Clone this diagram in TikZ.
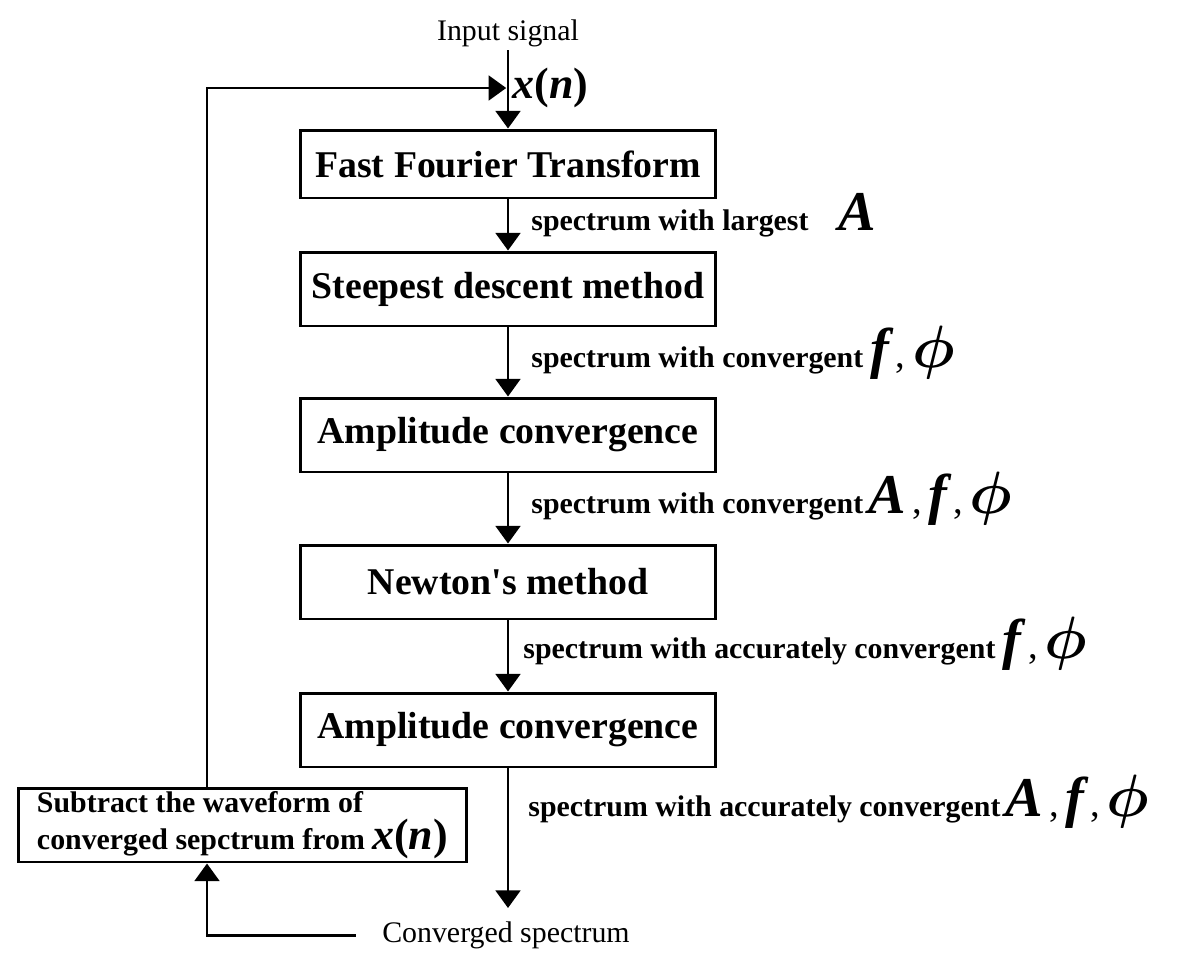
\documentclass[tikz,border=0pt]{standalone}
\usepackage{fix-cm}
\usepackage{fontspec}
\setmainfont{Liberation Serif}
\usepackage{amsmath}
\usepackage{bm}
\usetikzlibrary{arrows.meta, positioning, calc}
\tikzstyle{arrow} = [line width=1.7pt, -{Triangle[length=10pt, width=14pt]}]
\tikzstyle{block} = [draw, line width=1.7pt, minimum width=8.32cm, minimum height=1.48cm, inner sep=0pt, font=\fontsize{21.5}{26}\selectfont\bfseries]
\tikzstyle{lbl} = [font=\fontsize{17}{20}\selectfont\bfseries, inner sep=0pt, anchor=base west, xshift=0.44cm, yshift=-0.1cm]
\newcommand{\symA}{{\fontsize{32}{34}\selectfont\bfseries\itshape A}}
\newcommand{\symf}{{\fontsize{32}{34}\selectfont\bfseries\itshape f}}
\newcommand{\symphi}{{\fontsize{34}{36}\selectfont$\bm{\phi}$}}
\newcommand{\sepc}{{\fontsize{22}{24}\selectfont\mdseries\,,\,}}
\newcommand{\sigx}{{\fontsize{25}{28}\selectfont\bfseries\itshape x\textup{(}n\textup{)}}}

\begin{document}
\begin{tikzpicture}[x=0.02cm, y=-0.02cm]
    \useasboundingbox (0,0) rectangle (1200,974);

    % input
    \node[font=\fontsize{17}{20}\selectfont, inner sep=2pt] (in) at (508,33) {Input signal};

    % blocks
    \node[block, minimum height=1.36cm] (fft) at (508,164) {Fast Fourier Transform};
    \node[block] (sd) at (508,289) {Steepest descent method};
    \node[block] (amp1) at (508,435) {Amplitude convergence};
    \node[block] (newton) at (508,582) {Newton\textquotesingle s method};
    \node[block] (amp2) at (508,730) {Amplitude convergence};

    % feedback block
    \node[draw, line width=1.7pt, minimum width=8.98cm, minimum height=1.48cm, inner xsep=0.2cm, inner ysep=0pt, align=left, font=\fontsize{17}{21}\selectfont\bfseries] (sub) at (242.5,825) {Subtract the waveform of\\converged sepctrum from \sigx};

    \node[font=\fontsize{17}{20}\selectfont, inner sep=2pt] (conv) at (506,935) {Converged spectrum};

    \coordinate (join) at (508,88);
    \coordinate (loop) at (207,88);
    \coordinate (out) at (508,908);

    % Arrows
    \draw[arrow] (in.south) -- (fft.north);
    \node[right=0.05cm of join, inner sep=1pt] (xn) {\sigx};
    \draw[arrow] (fft.south) -- (sd.north) node[midway, lbl] {spectrum with largest\quad\symA};
    \draw[arrow] (sd.south) -- (amp1.north) node[midway, lbl] {spectrum with convergent\ \symf\sepc\symphi};
    \draw[arrow] (amp1.south) -- (newton.north) node[midway, lbl] {spectrum with convergent\,\symA\sepc\symf\sepc\symphi};
    \draw[arrow] (newton.south) -- (amp2.north) node[midway, lbl, xshift=-0.16cm, yshift=0.06cm] {spectrum with accurately convergent\ \symf\sepc\symphi};
    \draw[arrow] (amp2.south) -- (out) node[pos=0.31, lbl, xshift=-0.06cm] {spectrum with accurately convergent\,\symA\sepc\symf\sepc\symphi};

    % loop back
    \draw[arrow] (sub.north -| loop) -- (loop) -- ([xshift=-1pt]join);
    \draw[arrow] ([xshift=-0.45cm]conv.west) -| (sub.south -| loop);
\end{tikzpicture}
\end{document}
